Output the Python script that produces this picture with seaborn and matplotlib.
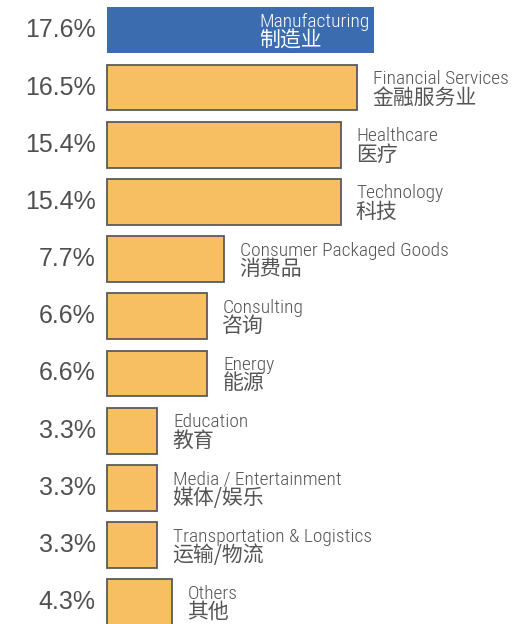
import matplotlib
matplotlib.use("Agg")
import matplotlib.pyplot as plt
import seaborn as sns
import pandas as pd
from matplotlib import font_manager

# data
industries_en = ["Manufacturing", "Financial Services", "Healthcare", "Technology",
                 "Consumer Packaged Goods", "Consulting", "Energy", "Education",
                 "Media / Entertainment", "Transportation & Logistics", "Others"]
industries_zh = ["制造业", "金融服务业", "医疗", "科技", "消费品", "咨询", "能源",
                 "教育", "媒体/娱乐", "运输/物流", "其他"]
shares = [17.6, 16.5, 15.4, 15.4, 7.7, 6.6, 6.6, 3.3, 3.3, 3.3, 4.3]
highlight = ["Manufacturing"]

BLUE = "#3b6cb0"
ORANGE = "#f8be62"
EDGE = "#5a5a5a"
TEXT = "#555555"

sns.set_style("white")
plt.rcParams["font.family"] = ["Liberation Sans", "Noto Sans CJK SC", "DejaVu Sans"]

# condensed font if one is around, otherwise plain Liberation Sans
names = {f.name for f in font_manager.fontManager.ttflist}
en_font, en_size = "Liberation Sans", 12
for cand in ["Roboto Condensed", "Liberation Sans Narrow", "Open Sans Condensed"]:
    if cand in names:
        en_font, en_size = cand, 14
        break

df = pd.DataFrame({"industry": industries_en, "share": shares})
df["group"] = ["hi" if i in highlight else "lo" for i in industries_en]

fig = plt.figure(figsize=(5.16, 6.24), dpi=100)
ax = fig.add_axes([0, 0, 1, 1])

sns.barplot(data=df, x="share", y="industry", hue="group", orient="h",
            palette={"hi": BLUE, "lo": ORANGE}, dodge=False, width=0.8,
            legend=False, ax=ax, saturation=1)

for patch in ax.patches:
    if patch.get_facecolor()[:3] == matplotlib.colors.to_rgb(ORANGE):
        patch.set_edgecolor(EDGE)
        patch.set_linewidth(1.3)
    else:
        patch.set_linewidth(0)

ax.set_xlim(-7.05, 26.96)
ax.set_ylim(10.38, -0.53)
ax.axis("off")

fig.canvas.draw()
for i, (en, zh, v) in enumerate(zip(industries_en, industries_zh, shares)):
    ax.annotate(f"{v:.1f}%", xy=(0, i), xytext=(-8, 0), textcoords="offset points",
                ha="right", va="center", fontsize=18, color="#505050")
    if en in highlight:
        t = ax.annotate(en, xy=(v, i), xytext=(-3.5, 2.5), textcoords="offset points",
                        ha="right", va="baseline", fontsize=en_size, color="white",
                        family=[en_font, "Noto Sans CJK SC"], fontweight="light")
        fig.canvas.draw()
        x0 = t.get_window_extent().x0
        ax.annotate(zh, xy=(x0, ax.transData.transform((v, i))[1]), xycoords="figure pixels",
                    xytext=(0, -11.5), textcoords="offset points", ha="left", va="baseline",
                    fontsize=15, color="white", family=["Noto Sans CJK SC"],
                    fontweight="light")
    else:
        ax.annotate(en, xy=(v, i), xytext=(11.5, 2.5), textcoords="offset points",
                    ha="left", va="baseline", fontsize=en_size, color=TEXT,
                    family=[en_font, "Noto Sans CJK SC"], fontweight="light")
        ax.annotate(zh, xy=(v, i), xytext=(11, -11.5), textcoords="offset points",
                    ha="left", va="baseline", fontsize=15, color=TEXT,
                    family=["Noto Sans CJK SC"], fontweight="light")

fig.savefig("out.png", dpi=100)
